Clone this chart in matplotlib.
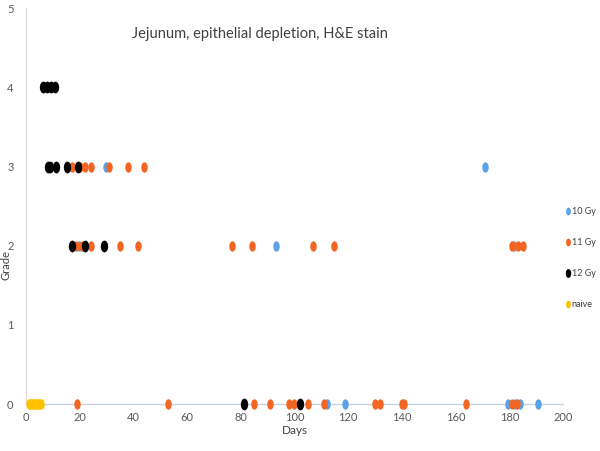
import matplotlib
matplotlib.use("Agg")
from matplotlib import pyplot as plt
from matplotlib.path import Path
from matplotlib.transforms import Affine2D

# days / grade
gy10_days = [7.1, 29.8, 171.0, 19.9, 93.0, 181.9, 112.2, 118.9, 179.6, 182.1, 184.0, 190.8]
gy10_grade = [4, 3, 3, 2, 2, 2, 0, 0, 0, 0, 0, 0]

gy11_days = [8.9,
             17.0, 20.1, 22.0, 24.1, 31.0, 38.1, 43.9,
             18.6, 20.7, 24.1, 35.0, 41.8, 76.8, 84.1, 106.8, 114.8, 180.9, 183.1, 185.0,
             19.1, 53.0, 85.0, 90.9, 98.1, 99.9, 104.9, 111.1, 130.0, 131.8, 139.9, 140.9,
             163.9, 180.9, 183.0]
gy11_grade = [4,
              3, 3, 3, 3, 3, 3, 3,
              2, 2, 2, 2, 2, 2, 2, 2, 2, 2, 2, 2,
              0, 0, 0, 0, 0, 0, 0, 0, 0, 0, 0, 0,
              0, 0, 0]

gy12_days = [6.3, 7.8, 9.3, 10.8,
             8.2, 8.9, 11.2, 15.3, 19.2,
             17.0, 22.0, 29.2,
             81.2, 102.0]
gy12_grade = [4, 4, 4, 4,
              3, 3, 3, 3, 3,
              2, 2, 2,
              0, 0]

naive_days = [1.0, 1.5, 2.0, 2.5, 3.0, 3.5, 4.0, 4.5, 5.0, 5.5]
naive_grade = [0, 0, 0, 0, 0, 0, 0, 0, 0, 0]

series = [
    ("10 Gy", gy10_days, gy10_grade, "#5ba3e6"),
    ("11 Gy", gy11_days, gy11_grade, "#f26522"),
    ("12 Gy", gy12_days, gy12_grade, "#000000"),
    ("naive", naive_days, naive_grade, "#ffc000"),
]

# tall oval marker, the picture is squeezed sideways
oval = Affine2D().scale(0.62, 1.0).transform_path(Path.unit_circle())

plt.rcParams["font.family"] = ["Lato", "DejaVu Sans"]

fig = plt.figure(figsize=(6, 4.51), dpi=100)
ax = fig.add_axes([0.0433, 0.104, 0.895, 0.878])

for name, d, g, c in series:
    ms = 8.5 if c == "#000000" else 7.5
    ax.plot(d, g, linestyle="none", marker=oval, markersize=ms,
            color=c, markeredgewidth=0, label=name, clip_on=False, zorder=3)

ax.set_xlim(0, 200)
ax.set_ylim(0, 5)
ax.set_xticks(range(0, 201, 20))
ax.set_yticks(range(0, 6))
ax.tick_params(length=0, labelsize=8, labelcolor="#595959")
ax.tick_params(axis="y", pad=9)
ax.tick_params(axis="x", pad=6)
for s in ["top", "right"]:
    ax.spines[s].set_visible(False)
ax.spines["left"].set_color("#d9d9d9")
ax.spines["bottom"].set_color("#c8d3dc")
ax.spines["left"].set_linewidth(0.8)
ax.spines["bottom"].set_linewidth(1.0)

ax.set_xlabel("Days", fontsize=8.5, color="#404040", labelpad=1)
ax.set_ylabel("Grade", fontsize=8, color="#404040")
ax.yaxis.set_label_coords(-0.027, 0.35)

ax.text(0.436, 0.935, "Jejunum, epithelial depletion, H&E stain",
        transform=ax.transAxes, ha="center", va="center",
        fontsize=10.5, color="#404040")

fig.legend(loc="center left", bbox_to_anchor=(0.945, 0.428), frameon=False,
           fontsize=6.5, labelcolor="#404040", handlelength=0.3,
           handletextpad=0.2, labelspacing=2.45, markerscale=0.75,
           borderaxespad=0, borderpad=0)

fig.savefig("out.png", dpi=100)
